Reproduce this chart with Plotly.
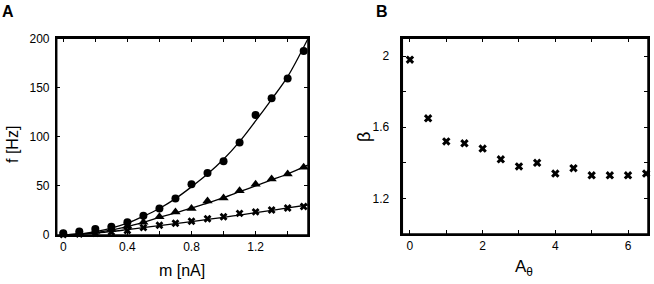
import plotly.graph_objects as go

# ---- Panel A data ----
m_vals = [0.0, 0.1, 0.2, 0.3, 0.4, 0.5, 0.6, 0.7, 0.8, 0.9, 1.0, 1.1, 1.2, 1.3, 1.4, 1.5]
f_circles = [1.7, 3.5, 6, 8.5, 13, 19.5, 27, 37, 51.5, 63, 75, 94, 122, 139, 159, 187]
f_triangles = [1, 2, 3.5, 5.5, 9, 13, 18.5, 23.5, 27, 34.5, 37.5, 45, 51.5, 57, 62, 69]
f_crosses = [0.5, 1, 1.7, 3, 4.5, 7.5, 10, 12, 14, 16.5, 18.5, 22, 23.5, 25.5, 27.5, 29]

# fitted curves
fit_m = [0.0, 0.1, 0.2, 0.3, 0.4, 0.5, 0.6, 0.7, 0.8, 0.9, 1.0, 1.1, 1.2, 1.3, 1.4, 1.525]
fit_circles = [0, 1, 3.5, 7, 12, 19, 27, 37, 49, 62, 77, 95, 116, 138, 161, 199]
fit_triangles = [0, 1, 2.5, 5, 8.5, 13, 18, 22.5, 27.5, 32.5, 38, 44, 50, 56, 62, 71]
fit_crosses = [0, 0.8, 2, 3.5, 5.5, 7.5, 9.5, 11.5, 13.5, 15.8, 18, 20.3, 22.7, 25, 27.5, 30.5]

# ---- Panel B data ----
a_theta = [0, 0.5, 1, 1.5, 2, 2.5, 3, 3.5, 4, 4.5, 5, 5.5, 6, 6.5]
beta = [1.98, 1.65, 1.52, 1.51, 1.48, 1.42, 1.38, 1.40, 1.34, 1.37, 1.33, 1.33, 1.33, 1.34]

# tick labels
a_xticks = [0, 0.4, 0.8, 1.2]
a_xtext = ["0", "0.4", "0.8", "1.2"]
a_xminor = [0.2, 0.6, 1.0, 1.4]
a_yticks = [0, 50, 100, 150, 200]
b_xticks = [0, 2, 4, 6]
b_xminor = [1, 3, 5]
b_yticks = [1.2, 1.6, 2.0]
b_ytext = ["1.2", "1.6", "2"]
b_yminor = [1.4, 1.8]

FONT = "Liberation Sans, Arial, Helvetica, sans-serif"
W, H = 654, 284

fig = go.Figure()

for fx, fy in [(fit_m, fit_circles), (fit_m, fit_triangles), (fit_m, fit_crosses)]:
    fig.add_trace(go.Scatter(x=fx, y=fy, mode="lines", line=dict(color="black", width=1.3, shape="spline"),
                             xaxis="x", yaxis="y", showlegend=False, hoverinfo="skip"))

fig.add_trace(go.Scatter(x=m_vals, y=f_crosses, mode="markers", cliponaxis=False,
                         marker=dict(symbol="x", size=7, color="black", line=dict(width=0)),
                         xaxis="x", yaxis="y", showlegend=False))
fig.add_trace(go.Scatter(x=m_vals, y=f_triangles, mode="markers", cliponaxis=False,
                         marker=dict(symbol="triangle-up", size=9, color="black", line=dict(width=0)),
                         xaxis="x", yaxis="y", showlegend=False))
fig.add_trace(go.Scatter(x=m_vals, y=f_circles, mode="markers", cliponaxis=False,
                         marker=dict(symbol="circle", size=8, color="black", line=dict(width=0)),
                         xaxis="x", yaxis="y", showlegend=False))

fig.add_trace(go.Scatter(x=a_theta, y=beta, mode="markers", cliponaxis=False,
                         marker=dict(symbol="x", size=7.5, color="black", line=dict(width=0)),
                         xaxis="x2", yaxis="y2", showlegend=False))


def px_x(p):
    return p / W


def px_y(p):
    return 1 - p / H


A_DOM_X = [px_x(56.7), px_x(308)]
A_DOM_Y = [px_y(235), px_y(38.3)]
B_DOM_X = [px_x(402.3), px_x(648)]
B_DOM_Y = [px_y(234), px_y(38.3)]

axis_common = dict(showline=True, linecolor="black", linewidth=1.5, mirror="ticks",
                   ticks="inside", ticklen=4, tickwidth=1, tickcolor="black",
                   showgrid=False, zeroline=False, automargin=False,
                   tickfont=dict(family=FONT, size=12, color="black"))
minor_common = dict(ticks="inside", ticklen=4, tickwidth=1, tickcolor="black", showgrid=False)

fig.update_layout(
    template="none",
    width=W, height=H,
    margin=dict(l=0, r=0, t=0, b=0, pad=0),
    paper_bgcolor="white", plot_bgcolor="white",
    font=dict(family=FONT, color="black"),
    xaxis=dict(domain=A_DOM_X, range=[-0.041, 1.527],
               tickvals=a_xticks, ticktext=a_xtext,
               minor=dict(tickvals=a_xminor, **minor_common),
               anchor="y", **axis_common),
    yaxis=dict(domain=A_DOM_Y, range=[0, 200],
               tickvals=a_yticks, anchor="x", ticklabelstandoff=3, **axis_common),
    xaxis2=dict(domain=B_DOM_X, range=[-0.21, 6.55],
                tickvals=b_xticks,
                minor=dict(tickvals=b_xminor, **minor_common),
                anchor="y2", **axis_common),
    yaxis2=dict(domain=B_DOM_Y, range=[1.0, 2.1],
                tickvals=b_yticks, ticktext=b_ytext,
                minor=dict(tickvals=b_yminor, **minor_common),
                anchor="x2", ticklabelstandoff=9, **axis_common),
)

# frames around the plot areas (paper coordinates)
for dx, dy in [(A_DOM_X, A_DOM_Y), (B_DOM_X, B_DOM_Y)]:
    fig.add_shape(type="rect", xref="paper", yref="paper", x0=dx[0], x1=dx[1], y0=dy[0], y1=dy[1],
                  line=dict(color="black", width=1.5), fillcolor="rgba(0,0,0,0)", layer="above")

ann = [
    dict(text="<b>A</b>", x=px_x(0), y=px_y(1), xanchor="left", yanchor="top", font=dict(size=16)),
    dict(text="<b>B</b>", x=px_x(374), y=px_y(1), xanchor="left", yanchor="top", font=dict(size=16)),
    dict(text="m [nA]", x=px_x(182), y=px_y(270), xanchor="center", yanchor="middle", font=dict(size=16)),
    dict(text="f [Hz]", x=px_x(12), y=px_y(145), xanchor="center", yanchor="middle", textangle=-90, font=dict(size=16)),
    dict(text="A<sub>θ</sub>", x=px_x(524), y=px_y(268), xanchor="center", yanchor="middle", font=dict(size=17)),
    dict(text="β", x=px_x(364), y=px_y(137), xanchor="center", yanchor="middle", textangle=-90, font=dict(size=18)),
]
for a in ann:
    a.update(xref="paper", yref="paper", showarrow=False)
    a["font"].update(family=FONT, color="black")
fig.update_layout(annotations=ann)

fig.write_html("out.html", config={"displayModeBar": False},
               post_script="document.body.style.margin='0';document.body.style.padding='0';"
                           "document.documentElement.style.overflow='hidden';")
